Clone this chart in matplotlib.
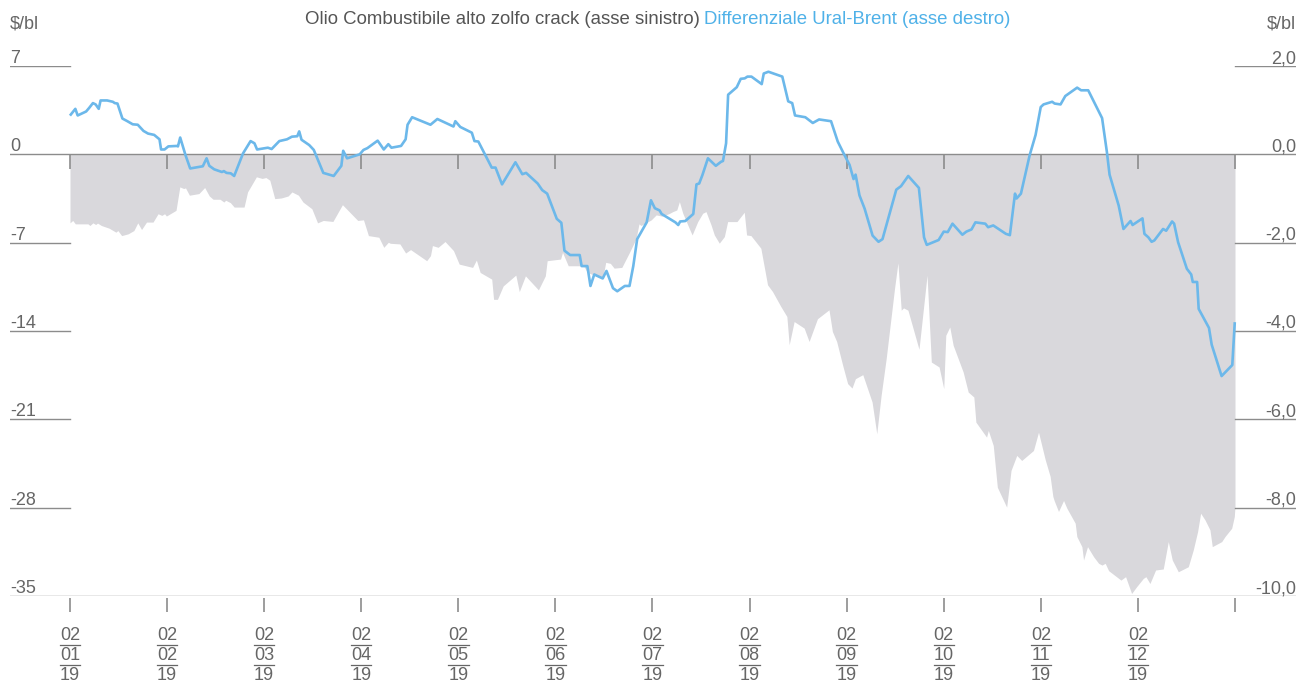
"""Crack olio combustibile alto zolfo e differenziale Ural-Brent, 2019."""

import matplotlib

matplotlib.use("Agg")
import matplotlib.pyplot as plt

plt.rcParams["font.family"] = ["Liberation Sans", "DejaVu Sans"]

# mesi dal 02/01/19 (0 = 02/01/19, 12 = 02/01/20)
mesi_crack = [
    0.000, 0.028, 0.055, 0.185, 0.205, 0.236, 0.264, 0.284, 0.323, 0.402,
    0.473, 0.493, 0.532, 0.599, 0.658, 0.698, 0.737, 0.788, 0.855, 0.907,
    0.946, 0.974, 0.993, 1.092, 1.131, 1.171, 1.190, 1.230, 1.328, 1.387,
    1.435, 1.474, 1.545, 1.585, 1.604, 1.652, 1.691, 1.793, 1.829, 1.880,
    1.920, 1.979, 2.018, 2.058, 2.109, 2.176, 2.247, 2.286, 2.353, 2.400,
    2.491, 2.550, 2.609, 2.708, 2.806, 2.964, 3.023, 3.074, 3.181, 3.232,
    3.279, 3.299, 3.398, 3.457, 3.508, 3.674, 3.713, 3.733, 3.792, 3.863,
    3.950, 4.009, 4.147, 4.186, 4.225, 4.344, 4.363, 4.403, 4.462, 4.592,
    4.628, 4.691, 4.825, 4.896, 4.915, 5.053, 5.073, 5.132, 5.290, 5.329,
    5.487, 5.518, 5.566, 5.605, 5.684, 5.763, 5.830, 5.861, 5.881, 5.986,
    6.038, 6.100, 6.170, 6.209, 6.250, 6.277, 6.312, 6.363, 6.408, 6.466,
    6.517, 6.551, 6.603, 6.637, 6.688, 6.740, 6.774, 6.870, 6.945, 6.969,
    7.014, 7.116, 7.185, 7.236, 7.322, 7.384, 7.408, 7.459, 7.562, 7.613,
    7.699, 7.818, 7.853, 7.897, 7.959, 8.010, 8.055, 8.090, 8.166, 8.262,
    8.310, 8.355, 8.407, 8.493, 8.528, 8.562, 8.586, 8.631, 8.745, 8.828,
    8.872, 8.952, 9.000, 9.021, 9.062, 9.097, 9.200, 9.252, 9.310, 9.331,
    9.441, 9.459, 9.510, 9.552, 9.648, 9.693, 9.752, 9.803, 9.924, 9.976,
    10.045, 10.096, 10.124, 10.137, 10.182, 10.234, 10.268, 10.354, 10.371,
    10.423, 10.440, 10.481, 10.543, 10.595, 10.630, 10.663, 10.698, 10.825,
    10.873, 10.935, 10.986, 11.055, 11.082, 11.124, 11.182, 11.261, 11.313,
    11.354, 11.416, 11.519, 11.570, 11.615, 11.646, 11.691, 11.742, 11.766,
    11.863, 11.897, 11.966, 11.993, 12.000,
]
crack_olio = [
    -5.43, -5.24, -5.51, -5.51, -5.64, -5.43, -5.56, -5.45, -5.64, -5.85,
    -6.17, -6.04, -6.44, -6.30, -6.04, -5.43, -5.96, -5.37, -5.37, -4.71,
    -4.84, -4.71, -4.89, -4.44, -2.58, -2.71, -2.66, -3.24, -3.11, -2.63,
    -3.30, -3.56, -3.56, -3.78, -3.64, -3.83, -4.18, -4.18, -2.98, -2.31,
    -1.78, -1.91, -1.84, -2.05, -3.51, -3.46, -3.30, -2.98, -3.24, -3.78,
    -4.31, -5.43, -5.24, -5.32, -3.99, -5.24, -5.19, -6.44, -6.57, -7.37,
    -6.97, -7.05, -7.10, -7.82, -7.55, -8.43, -8.03, -7.23, -7.37, -6.91,
    -7.63, -8.70, -8.96, -8.38, -9.36, -9.89, -11.49, -11.49, -10.43, -9.57,
    -10.88, -9.63, -10.74, -9.63, -8.43, -8.30, -7.77, -8.83, -8.83, -9.36,
    -9.84, -8.56, -8.64, -9.02, -8.96, -7.77, -6.70, -5.51, -5.64, -5.20,
    -4.80, -4.90, -4.70, -4.54, -4.41, -3.75, -4.67, -5.59, -6.39, -5.33,
    -4.67, -4.54, -5.59, -6.39, -7.04, -6.52, -5.33, -5.33, -4.59, -6.39,
    -6.44, -7.44, -10.34, -10.87, -12.06, -12.85, -15.09, -13.25, -13.77, -14.83,
    -13.03, -12.32, -14.04, -14.83, -16.72, -18.17, -18.52, -17.78, -17.46, -19.63,
    -22.14, -19.10, -16.19, -10.63, -8.60, -12.35, -12.17, -12.35, -15.45, -9.58,
    -16.46, -16.85, -18.57, -14.34, -13.68, -15.13, -17.25, -18.84, -19.23, -21.22,
    -22.41, -21.88, -23.07, -26.38, -27.96, -25.05, -23.86, -24.26, -23.47, -22.02,
    -24.19, -25.52, -27.11, -27.43, -28.30, -27.43, -28.04, -29.23, -30.29,
    -31.09, -32.15, -31.09, -31.88, -32.41, -32.55, -32.41, -32.99, -33.74,
    -33.47, -34.80, -34.27, -33.61, -33.47, -34.01, -32.94, -32.86, -30.69,
    -32.15, -33.08, -32.68, -31.35, -29.89, -28.44, -28.97, -29.76, -31.09,
    -30.69, -30.29, -29.63, -28.70, -27.90,
]

mesi_diff = [
    0.008, 0.055, 0.079, 0.166, 0.197, 0.236, 0.264, 0.296, 0.315, 0.382,
    0.441, 0.461, 0.489, 0.540, 0.591, 0.646, 0.698, 0.757, 0.804, 0.867,
    0.922, 0.938, 0.974, 1.013, 1.100, 1.112, 1.135, 1.190, 1.238, 1.368,
    1.407, 1.435, 1.486, 1.565, 1.585, 1.612, 1.656, 1.691, 1.782, 1.860,
    1.900, 1.927, 2.038, 2.077, 2.156, 2.235, 2.286, 2.341, 2.361, 2.385,
    2.464, 2.511, 2.609, 2.716, 2.795, 2.814, 2.854, 2.984, 3.023, 3.063,
    3.169, 3.232, 3.279, 3.311, 3.410, 3.457, 3.477, 3.524, 3.713, 3.784,
    3.950, 3.969, 4.020, 4.139, 4.166, 4.206, 4.344, 4.383, 4.450, 4.588,
    4.659, 4.698, 4.817, 4.864, 4.915, 5.014, 5.061, 5.093, 5.152, 5.250,
    5.270, 5.329, 5.361, 5.400, 5.487, 5.526, 5.593, 5.637, 5.715, 5.763,
    5.802, 5.842, 5.940, 5.984, 6.024, 6.073, 6.094, 6.175, 6.236, 6.265,
    6.285, 6.338, 6.420, 6.453, 6.481, 6.514, 6.571, 6.652, 6.705, 6.726,
    6.758, 6.779, 6.868, 6.909, 6.950, 6.978, 7.019, 7.125, 7.146, 7.194,
    7.337, 7.398, 7.439, 7.468, 7.574, 7.651, 7.716, 7.839, 7.908, 7.969,
    8.030, 8.071, 8.092, 8.132, 8.185, 8.267, 8.328, 8.369, 8.511, 8.560,
    8.634, 8.744, 8.797, 8.825, 8.947, 9.000, 9.041, 9.090, 9.192, 9.233,
    9.286, 9.326, 9.428, 9.457, 9.510, 9.640, 9.681, 9.734, 9.750, 9.795,
    9.885, 9.946, 9.999, 10.028, 10.117, 10.142, 10.203, 10.252, 10.374, 10.415,
    10.488, 10.631, 10.680, 10.708, 10.802, 10.851, 10.924, 10.945, 11.047, 11.067,
    11.108, 11.141, 11.169, 11.259, 11.291, 11.352, 11.373, 11.414, 11.504, 11.549,
    11.565, 11.610, 11.626, 11.732, 11.760, 11.862, 11.972, 11.997,
]
diff_ural_brent = [
    0.90, 1.03, 0.88, 0.97, 1.05, 1.16, 1.13, 1.03, 1.22, 1.22,
    1.19, 1.16, 1.15, 0.81, 0.75, 0.68, 0.67, 0.53, 0.47, 0.44,
    0.34, 0.11, 0.11, 0.18, 0.19, 0.18, 0.38, -0.02, -0.32, -0.27,
    -0.09, -0.26, -0.34, -0.40, -0.38, -0.42, -0.43, -0.49, 0.02, 0.30,
    0.25, 0.11, 0.15, 0.12, 0.30, 0.34, 0.40, 0.41, 0.52, 0.33,
    0.21, 0.10, -0.42, -0.49, -0.26, 0.08, -0.09, 0.00, 0.10, 0.14,
    0.31, 0.11, 0.23, 0.15, 0.19, 0.34, 0.67, 0.84, 0.67, 0.80,
    0.63, 0.75, 0.62, 0.49, 0.30, 0.29, -0.30, -0.30, -0.68, -0.18,
    -0.45, -0.42, -0.66, -0.81, -0.89, -1.46, -1.55, -2.18, -2.28, -2.28,
    -2.53, -2.53, -2.98, -2.72, -2.81, -2.64, -3.03, -3.10, -2.98, -2.98,
    -2.53, -1.92, -1.54, -1.04, -1.22, -1.27, -1.35, -1.46, -1.54, -1.60,
    -1.52, -1.51, -1.35, -0.68, -0.66, -0.47, -0.09, -0.26, -0.17, -0.15,
    0.25, 1.35, 1.52, 1.71, 1.72, 1.76, 1.76, 1.59, 1.83, 1.87,
    1.76, 1.20, 1.16, 0.88, 0.84, 0.71, 0.79, 0.75, 0.29, 0.02,
    -0.24, -0.56, -0.46, -0.93, -1.23, -1.84, -1.98, -1.92, -0.80, -0.72,
    -0.49, -0.76, -1.88, -2.05, -1.94, -1.75, -1.76, -1.57, -1.82, -1.75,
    -1.70, -1.54, -1.57, -1.65, -1.61, -1.80, -1.83, -0.89, -1.00, -0.89,
    -0.02, 0.44, 1.07, 1.13, 1.19, 1.15, 1.13, 1.32, 1.51, 1.45,
    1.45, 0.82, 0.06, -0.46, -1.16, -1.69, -1.51, -1.60, -1.45, -1.80,
    -1.88, -1.98, -1.95, -1.69, -1.73, -1.52, -1.57, -1.99, -2.59, -2.72,
    -2.89, -2.89, -3.50, -3.93, -4.31, -5.02, -4.77, -3.83,
]

tick_mesi = list(range(13))
giorno = "02"
etichette_mese = ["01", "02", "03", "04", "05", "06",
                  "07", "08", "09", "10", "11", "12"]
anno = "19"
valori_sinistra = [7, 0, -7, -14, -21, -28, -35]
valori_destra = [2.0, 0.0, -2.0, -4.0, -6.0, -8.0, -10.0]

GRIGIO = "#8c8c8c"
TESTO = "#666666"
BLU_LINEA = "#6cb8ea"
BLU_TESTO = "#4fb1e8"
AREA = "#d9d8dc"
FS = 13

W, H = 1299, 684
fig = plt.figure(figsize=(W / 100, H / 100), dpi=100)
ax = fig.add_axes([10 / W, 88 / H, 1286 / W, 530 / H])
x0, x1 = -60 / 97.08, 12 + 61 / 97.08
ax.set_xlim(x0, x1)
ax.set_ylim(-35, 7)
ax.set_axis_off()

ax.fill_between(mesi_crack, crack_olio, 0, color=AREA, lw=0, zorder=1)

ax.axhline(0, color=GRIGIO, lw=1.0, zorder=2)
ax.axhline(-35, color=GRIGIO, lw=1.0, zorder=2)
for v in valori_sinistra:
    if v in (0, -35):
        continue
    ax.plot([x0, 0], [v, v], color=GRIGIO, lw=1.0, zorder=2)
    ax.plot([12, x1], [v, v], color=GRIGIO, lw=1.0, zorder=2)
ax.vlines(tick_mesi, -1.2, 0, color=GRIGIO, lw=1.2, zorder=3)
ax.vlines(tick_mesi, -35.15, -36.3, color=GRIGIO, lw=1.2, clip_on=False)

for v in valori_sinistra:
    ax.annotate(str(v), xy=(x0, v), xytext=(0, 3), textcoords="offset pixels",
                ha="left", va="baseline", fontsize=FS, color=TESTO)

ax2 = ax.twinx()
ax2.set_ylim(-10, 2)
ax2.set_axis_off()
ax2.plot(mesi_diff, diff_ural_brent, color=BLU_LINEA, lw=1.9,
         solid_joinstyle="round", zorder=4)
for v in valori_destra:
    ax2.annotate(f"{v:.1f}".replace(".", ","), xy=(x1, v), xytext=(0, 3),
                 textcoords="offset pixels", ha="right", va="baseline",
                 fontsize=FS, color=TESTO)

# etichette date a tre righe con barre di separazione
trans = ax.get_xaxis_transform()
for m, mese in zip(tick_mesi, etichette_mese):
    ax.text(m, -39 / 530, giorno, transform=trans, ha="center", va="center",
            fontsize=FS, color=TESTO)
    ax.text(m, -59 / 530, mese, transform=trans, ha="center", va="center",
            fontsize=FS, color=TESTO)
    ax.text(m, -79 / 530, anno, transform=trans, ha="center", va="center",
            fontsize=FS, color=TESTO)
    for yb in (-49 / 530, -69 / 530):
        ax.plot([m - 0.105, m + 0.105], [yb, yb], transform=trans,
                color=TESTO, lw=0.9, clip_on=False)

fig.text(10 / W, 1 - 24 / H, r"\$/bl", ha="left", va="center",
         fontsize=FS, color=TESTO)
fig.text(1296 / W, 1 - 24 / H, r"\$/bl", ha="right", va="center",
         fontsize=FS, color=TESTO)
fig.text(700 / W, 1 - 20 / H, "Olio Combustibile alto zolfo crack (asse sinistro)",
         ha="right", va="center", fontsize=13.4, color="#555555")
fig.text(704 / W, 1 - 20 / H, "Differenziale Ural-Brent (asse destro)",
         ha="left", va="center", fontsize=13.4, color=BLU_TESTO)

fig.savefig("out.png", dpi=100)
